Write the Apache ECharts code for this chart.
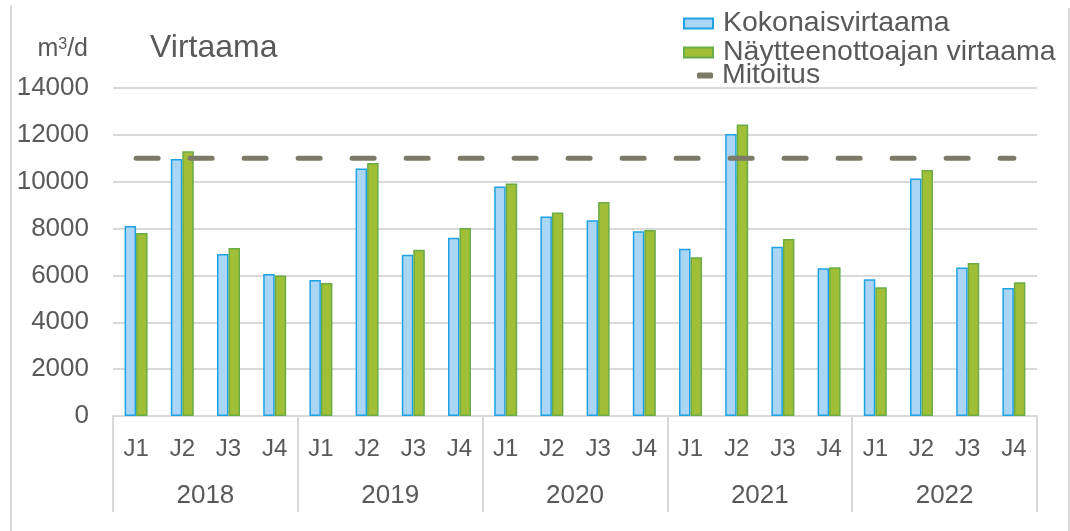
<!DOCTYPE html>
<html>
<head>
<meta charset="utf-8">
<script src="https://cdn.jsdelivr.net/npm/echarts@6/dist/echarts.min.js"></script>
<style>
html,body{margin:0;padding:0;background:#fff;}
#chart{width:1070px;height:531px;}
</style>
</head>
<body>
<div id="chart"></div>
<script>
const quarters = ['J1','J2','J3','J4','J1','J2','J3','J4','J1','J2','J3','J4','J1','J2','J3','J4','J1','J2','J3','J4'];
const years = ['2018','2019','2020','2021','2022'];
const kokonais = [8110, 10970, 6910, 6060, 5810, 10560, 6880, 7610, 9800, 8520, 8360, 7890, 7140, 12040, 7220, 6310, 5840, 10140, 6340, 5460];
const naytteenotto = [7810, 11300, 7170, 6000, 5680, 10800, 7100, 8020, 9920, 8690, 9130, 7940, 6780, 12440, 7550, 6350, 5500, 10500, 6530, 5710];
const mitoitus = [11000, 11000, 11000, 11000, 11000, 11000, 11000, 11000, 11000, 11000, 11000, 11000, 11000, 11000, 11000, 11000, 11000, 11000, 11000, 11000];
const yTicks = [0, 2000, 4000, 6000, 8000, 10000, 12000, 14000];

const FONT = '"Liberation Sans", Arial, sans-serif';
const TXT = '#595959';
const GRID = '#d9d9d9';

const chart = echarts.init(document.getElementById('chart'), null, {renderer: 'canvas'});
chart.setOption({
  animation: false,
  textStyle: {fontFamily: FONT, color: TXT},
  title: {
    text: 'Virtaama', left: 145, top: 27,
    textStyle: {fontSize: 32, fontWeight: 'normal', color: TXT, fontFamily: FONT}
  },
  legend: [{
    orient: 'vertical', left: 678, top: 4, itemGap: 0,
    itemWidth: 29, itemHeight: 10,
    data: [
      {name: 'Kokonaisvirtaama', icon: 'rect'},
      {name: 'Näytteenottoajan virtaama', icon: 'rect'}
    ],
    textStyle: {fontSize: 28.5, color: TXT, fontFamily: FONT, lineHeight: 26, padding: [0,0,0,5]}
  }, {
    orient: 'vertical', left: 692, top: 56, itemGap: 0,
    itemWidth: 16, itemHeight: 6,
    data: [{name: 'Mitoitus', icon: 'roundRect', itemStyle: {color: '#7b7a66'}}],
    textStyle: {fontSize: 28.5, color: TXT, fontFamily: FONT, lineHeight: 26, padding: [0,0,0,4]}
  }],
  grid: {left: 113, right: 33, top: 88, bottom: 115, containLabel: false},
  xAxis: [{
    type: 'category', data: quarters, position: 'bottom',
    axisLine: {show: true, lineStyle: {color: GRID, width: 2}},
    axisTick: {show: false},
    axisLabel: {fontSize: 24, color: TXT, margin: 21, interval: 0, fontFamily: FONT}
  }, {
    type: 'category', data: years, position: 'bottom',
    axisLine: {show: false},
    axisTick: {show: true, length: 96, lineStyle: {color: GRID, width: 2}},
    axisLabel: {fontSize: 26, color: TXT, margin: 67, interval: 0, fontFamily: FONT},
    splitLine: {show: false}
  }],
  yAxis: {
    type: 'value', min: yTicks[0], max: yTicks[yTicks.length - 1], interval: 2000,
    axisLine: {show: false}, axisTick: {show: false},
    axisLabel: {fontSize: 26, color: TXT, margin: 24, fontFamily: FONT, formatter: v => String(v)},
    splitLine: {lineStyle: {color: GRID, width: 2}}
  },
  series: [{
    name: 'Kokonaisvirtaama', type: 'bar', data: kokonais, barWidth: 11.5, barGap: '0%',
    itemStyle: {color: '#aad5f4', borderColor: '#1ea2e2', borderWidth: 1.5}
  }, {
    name: 'Näytteenottoajan virtaama', type: 'bar', data: naytteenotto, barWidth: 11.5, barGap: '0%',
    itemStyle: {color: '#a0be36', borderColor: '#6aad47', borderWidth: 1.5}
  }, {
    name: 'Mitoitus', type: 'line', data: mitoitus, symbol: 'none', z: 5,
    itemStyle: {color: '#7b7a66'},
    lineStyle: {color: '#7b7a66', width: 5, type: [22, 32], cap: 'round'}
  }],
  graphic: [{
    type: 'text', right: 982, top: 37,
    style: {
      text: '{a|m}{s|3}{a|/d}',
      rich: {
        a: {fontSize: 25, fill: TXT, fontFamily: FONT, verticalAlign: 'bottom'},
        s: {fontSize: 16, fill: TXT, fontFamily: FONT, verticalAlign: 'top', padding: [0,0,9,0]}
      }
    }
  }, {
    type: 'line', shape: {x1: 11, y1: 5, x2: 11, y2: 531},
    style: {stroke: GRID, lineWidth: 2}
  }, {
    type: 'line', shape: {x1: 1069, y1: 8, x2: 1069, y2: 531},
    style: {stroke: GRID, lineWidth: 2}
  }]
});
</script>
</body>
</html>
